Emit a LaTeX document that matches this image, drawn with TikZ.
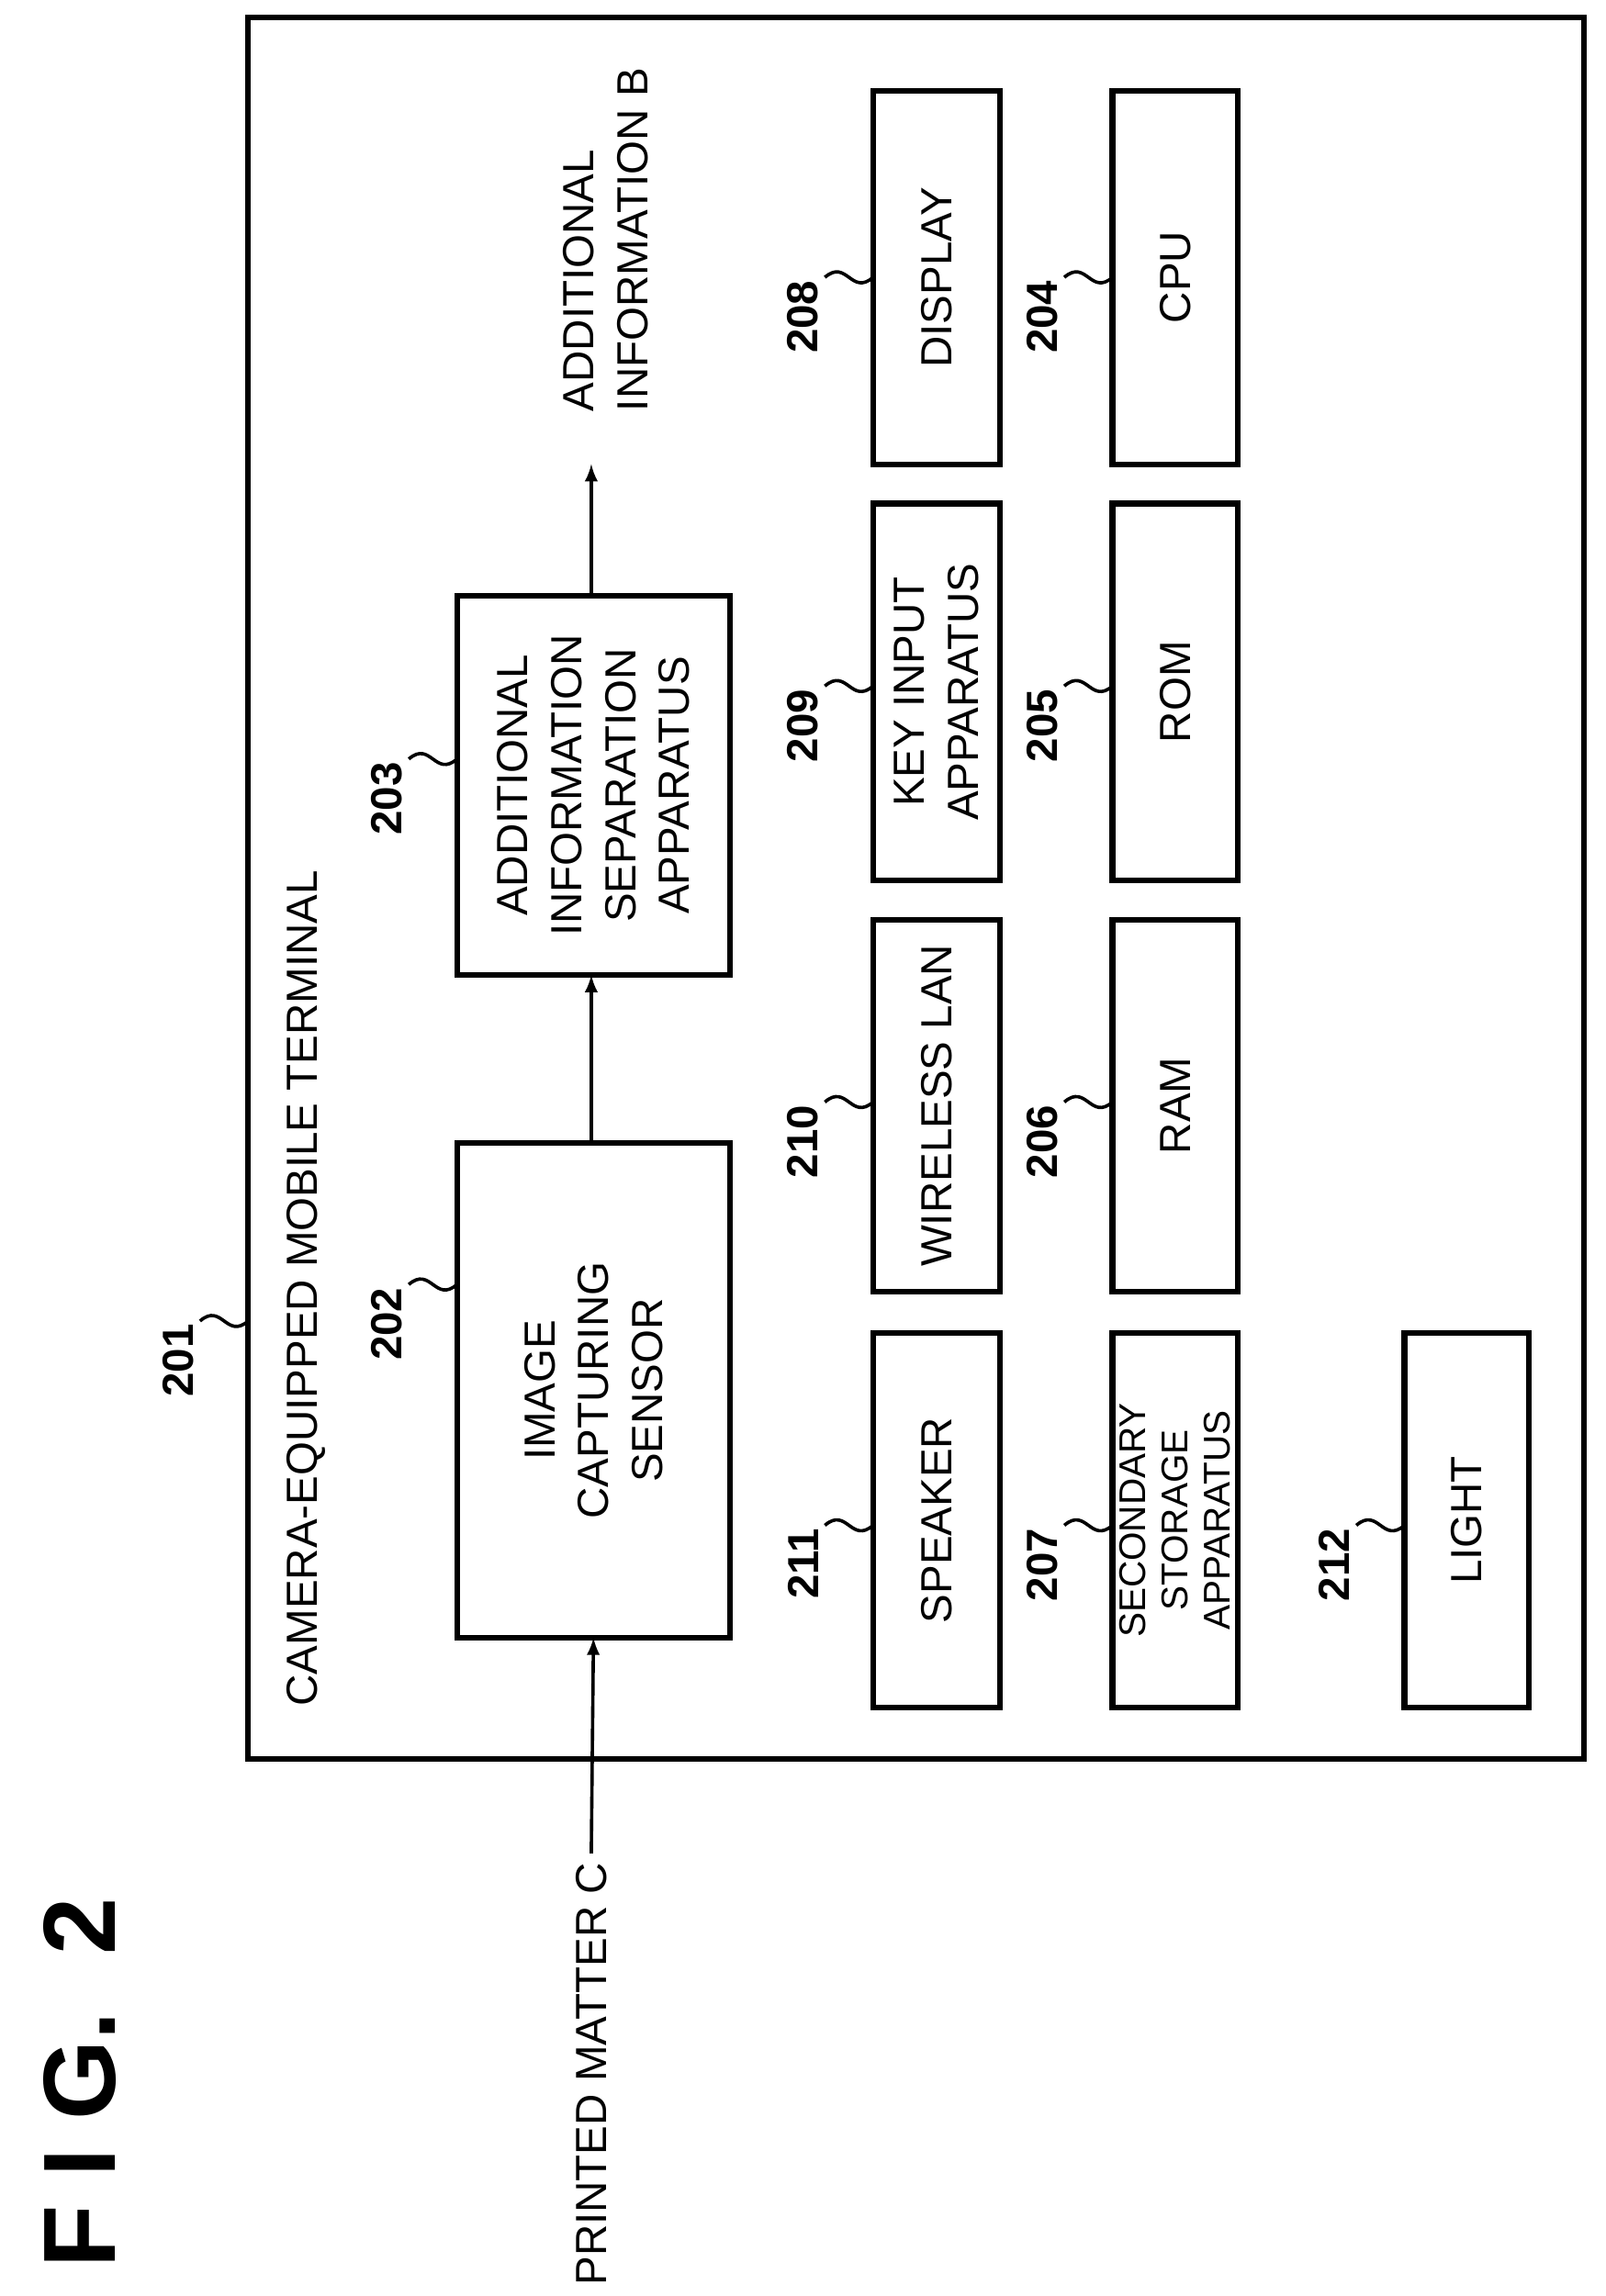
\documentclass[tikz,border=0pt]{standalone}
\usepackage{fontspec}
\setmainfont{Liberation Sans}
\begin{document}
\begin{tikzpicture}[x=0.02cm,y=-0.02cm,
 txt/.style={rotate=90,font=\fontsize{17}{21}\selectfont,align=center},
 small/.style={font=\fontsize{14.5}{16.5}\selectfont},
 num/.style={rotate=90,font=\bfseries\fontsize{17}{21}\selectfont},
 lead/.style={line width=1.3pt},
 arr/.style={line width=1.3pt,-latex}]
\useasboundingbox (0,0) rectangle (1100,1573);
\newcommand\bx[7][]{\draw[line width=2.2pt] (#2,#4) rectangle (#3,#5); \node[txt,#1] (#6) at ({(#2+#3)/2},{(#4+#5)/2}) {#7};}
\newcommand\ld[4]{\draw[lead] (#1-33,#2) .. controls (#1-18,#2-13) and (#1-15,#2+13) .. (#1,#2); \node[num,anchor=east] (#4) at (#1-48,#2-4) {#3};}
\node[rotate=90,font=\bfseries\fontsize{40}{40}\selectfont,anchor=west] (fig) at (55,1560) {F I G.\ \ 2};
\draw[line width=2.2pt] (170,12) rectangle (1085,1205);
\node[txt,anchor=west] (title) at (210,1175) {CAMERA-EQUIPPED MOBILE TERMINAL};
\ld{170}{905}{201}{n201}
\bx{313}{500}{783}{1122}{ics}{IMAGE\\CAPTURING\\SENSOR}
\bx{313}{500}{408}{668}{ais}{ADDITIONAL\\INFORMATION\\SEPARATION\\APPARATUS}
\ld{313}{880}{202}{n202}
\ld{313}{520}{203}{n203}
\node[txt,anchor=west] (pm) at (405,1572) {PRINTED MATTER C};
\draw[arr] (pm.east) -- (ics.west |- 405,1122);
\draw[arr] (405,783) -- (405,668);
\node[txt,anchor=west,align=left] (aib) at (415,288) {ADDITIONAL\\INFORMATION B};
\draw[arr] (405,408) -- (405,318);
\bx{598}{685}{913}{1170}{spk}{SPEAKER}
\bx{598}{685}{630}{885}{wl}{WIRELESS LAN}
\bx{598}{685}{345}{603}{key}{KEY INPUT\\APPARATUS}
\bx{598}{685}{62}{318}{dsp}{DISPLAY}
\bx[small]{762}{848}{913}{1170}{sec}{SECONDARY\\STORAGE\\APPARATUS}
\bx{762}{848}{630}{885}{ram}{RAM}
\bx{762}{848}{345}{603}{rom}{ROM}
\bx{762}{848}{62}{318}{cpu}{CPU}
\bx{962}{1047}{913}{1170}{lig}{LIGHT}
\ld{598}{1045}{211}{n211}
\ld{598}{755}{210}{n210}
\ld{598}{470}{209}{n209}
\ld{598}{190}{208}{n208}
\ld{762}{1045}{207}{n207}
\ld{762}{755}{206}{n206}
\ld{762}{470}{205}{n205}
\ld{762}{190}{204}{n204}
\ld{962}{1045}{212}{n212}
\end{tikzpicture}
\end{document}
